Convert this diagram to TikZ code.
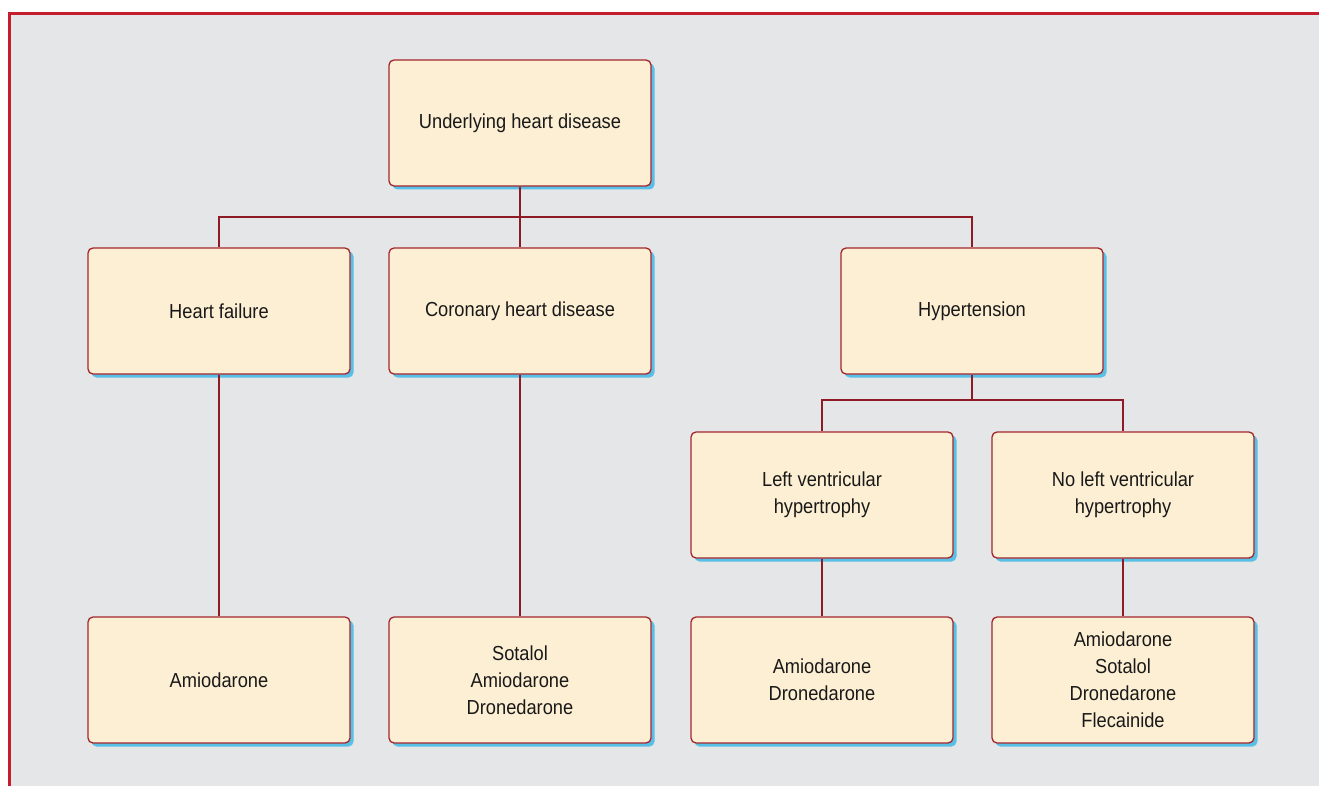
\documentclass[tikz,border=0pt]{standalone}
\usepackage{fontspec}
\setmainfont{Liberation Sans}[FakeStretch=0.9]
\usetikzlibrary{shadows}
\definecolor{bggray}{HTML}{E5E6E8}
\definecolor{framered}{HTML}{C41E2E}
\definecolor{boxfill}{HTML}{FDEFD3}
\definecolor{boxdraw}{HTML}{A3262E}
\definecolor{linered}{HTML}{8E1B26}
\definecolor{shadowblue}{HTML}{58BFE6}
\tikzset{
  box/.style={draw=boxdraw, line width=1.3pt, fill=boxfill, rounded corners=5pt,
    minimum width=262pt, minimum height=126pt, inner sep=0pt, align=center,
    text=black!90, font=\fontsize{20.3}{27}\selectfont,
    drop shadow={shadow xshift=3.5pt, shadow yshift=-3.5pt, fill=shadowblue, opacity=1}},
  conn/.style={draw=linered, line width=2.9pt}
}
\begin{document}
\begin{tikzpicture}[x=1pt,y=-1pt]
\useasboundingbox (0,0) rectangle (1319,786);
\fill[white] (0,0) rectangle (1319,786);
\fill[bggray] (8,12) rectangle (1319,786);
\draw[framered, line width=3pt] (9.5,786) -- (9.5,13.5) -- (1319,13.5);

\node[box] (root) at (520,123) {Underlying heart disease};
\node[box] (hf) at (219,311) {Heart failure};
\node[box] (chd) at (520,311) {Coronary heart disease};
\node[box] (ht) at (972,311) {Hypertension};
\node[box] (lvh) at (822,495) {Left ventricular\\hypertrophy};
\node[box] (nlvh) at (1123,495) {No left ventricular\\hypertrophy};
\node[box] (d1) at (219,680) {Amiodarone};
\node[box] (d2) at (520,680) {Sotalol\\Amiodarone\\Dronedarone};
\node[box] (d3) at (822,680) {Amiodarone\\Dronedarone};
\node[box] (d4) at (1123,680) {Amiodarone\\Sotalol\\Dronedarone\\Flecainide};

\coordinate (b1) at (520,217);
\coordinate (b2) at (972,400);

\draw[conn] (root.south) -- (chd.north);
\draw[conn] (hf.north) |- (b1) -| (ht.north);
\draw[conn] (hf.south) -- (d1.north);
\draw[conn] (chd.south) -- (d2.north);
\draw[conn] (ht.south) -- (b2);
\draw[conn] (lvh.north) |- (b2) -| (nlvh.north);
\draw[conn] (lvh.south) -- (d3.north);
\draw[conn] (nlvh.south) -- (d4.north);
\end{tikzpicture}
\end{document}
